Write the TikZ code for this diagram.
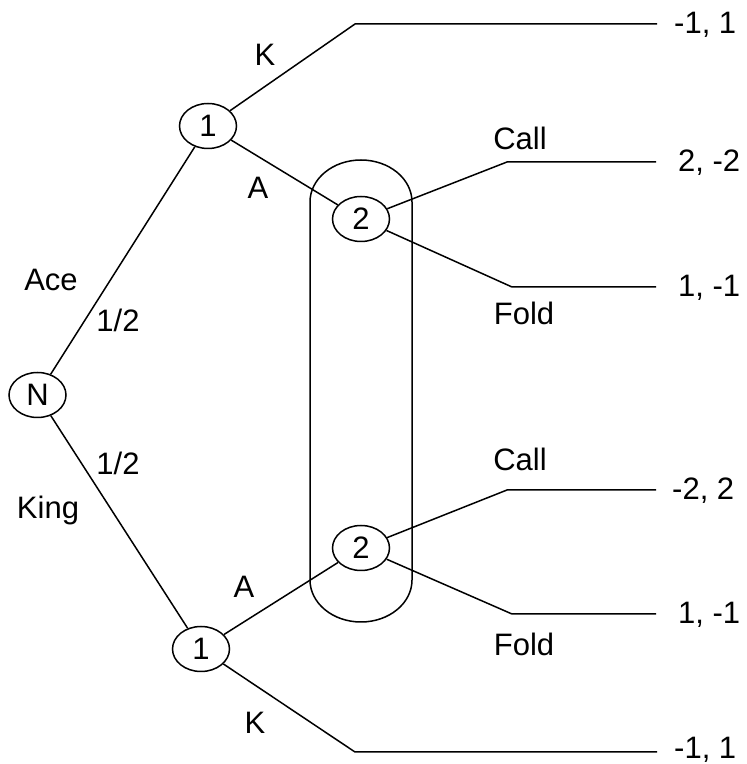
\documentclass[tikz,border=0pt]{standalone}
\usepackage{fontspec}
\setmainfont{Liberation Sans}
\usetikzlibrary{shapes.geometric}
\begin{document}
\begin{tikzpicture}[x=1pt,y=1pt,
  every node/.style={font=\fontsize{31}{35}\selectfont},
  gnode/.style={draw, ellipse, line width=1.5pt, minimum width=57pt, minimum height=45pt, inner sep=0pt},
  edge/.style={line width=1.5pt},
  lbl/.style={inner sep=0pt},
  pay/.style={anchor=west, inner sep=0pt}]
\useasboundingbox (0,0) rectangle (747,764);
% decision nodes
\node[gnode] (N) at (37.5,369) {N};
\node[gnode] (T1) at (208,638) {1};
\node[gnode] (B1) at (201,115) {1};
\node[gnode] (T2) at (361,545) {2};
\node[gnode] (B2) at (361,216) {2};
% information set
\draw[edge] (310,184) -- (310,562) arc[start angle=180, end angle=0, x radius=51, y radius=42]
  -- (412,184) arc[start angle=0, end angle=-180, x radius=51, y radius=42] -- cycle;
% corner and end points
\coordinate (tkc) at (355,740); \coordinate (tke) at (657,740);
\coordinate (tcc) at (507,602); \coordinate (tce) at (656,602);
\coordinate (tfc) at (512,477); \coordinate (tfe) at (656,477);
\coordinate (bcc) at (507,274); \coordinate (bce) at (656,274);
\coordinate (bfc) at (512,150); \coordinate (bfe) at (656,150);
\coordinate (bkc) at (355,12);  \coordinate (bke) at (657,12);
% edges
\draw[edge] (N) -- (T1);
\draw[edge] (N) -- (B1);
\draw[edge] (T1) -- (T2);
\draw[edge] (B1) -- (B2);
\draw[edge] (T1) -- (tkc) -- (tke);
\draw[edge] (T2) -- (tcc) -- (tce);
\draw[edge] (T2) -- (tfc) -- (tfe);
\draw[edge] (B2) -- (bcc) -- (bce);
\draw[edge] (B2) -- (bfc) -- (bfe);
\draw[edge] (B1) -- (bkc) -- (bke);
% payoffs
\node[pay] (p1) at (674,739) {-1, 1};
\node[pay] (p2) at (678,601) {2, -2};
\node[pay] (p3) at (678,476) {1, -1};
\node[pay] (p4) at (672,273) {-2, 2};
\node[pay] (p5) at (678,149) {1, -1};
\node[pay] (p6) at (674,14) {-1, 1};
% labels
\node[lbl] (lK1) at (265,709) {K};
\node[lbl] (lA1) at (258,576) {A};
\node[lbl] (lAce) at (51,484) {Ace};
\node[lbl] (lh1) at (118,444) {1/2};
\node[lbl] (lh2) at (118,301) {1/2};
\node[lbl] (lKing) at (48,254) {King};
\node[lbl] (lA2) at (244,177) {A};
\node[lbl] (lK2) at (255,41) {K};
\node[lbl] (lC1) at (520,626) {Call};
\node[lbl] (lF1) at (524,451) {Fold};
\node[lbl] (lC2) at (520,305) {Call};
\node[lbl] (lF2) at (524,120) {Fold};
\end{tikzpicture}
\end{document}
